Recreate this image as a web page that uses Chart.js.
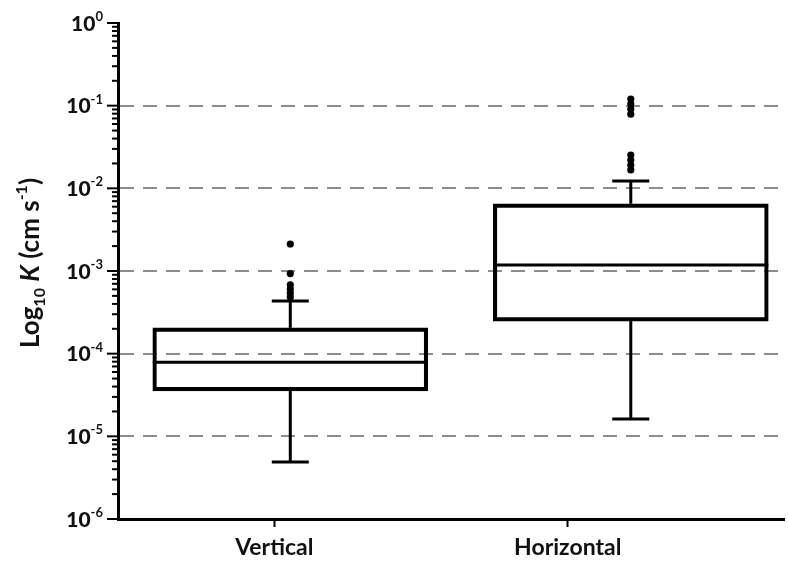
<!DOCTYPE html>
<html>
<head>
<meta charset="utf-8">
<script src="https://cdn.jsdelivr.net/npm/chart.js@4/dist/chart.umd.min.js"></script>
<style>
  html, body { margin: 0; padding: 0; background: #fff; }
  #wrap { width: 788px; height: 567px; position: relative; }
</style>
</head>
<body>
<div id="wrap"><canvas id="c"></canvas></div>
<script>
// Hydraulic conductivity K (cm/s) by flow direction
const categories   = ['Vertical', 'Horizontal'];
const whiskerLow   = [4.9e-6, 1.62e-5];
const q1           = [3.55e-5, 2.48e-4];
const median       = [7.9e-5, 1.18e-3];
const q3           = [2.05e-4, 6.5e-3];
const whiskerHigh  = [4.35e-4, 1.23e-2];
const outliersVertical   = [2.12e-3, 9.3e-4, 6.8e-4, 6.05e-4, 5.4e-4, 4.85e-4];
const outliersHorizontal = [0.12, 0.105, 0.091, 0.079, 0.0253, 0.022, 0.0191, 0.0167];
const yMin = 1e-6;
const yMax = 1;

const FONT = 'Lato, "Open Sans", sans-serif';
const INK = '#111';

const boxData = categories.map((c, i) => ({ x: i + 1, y: [q1[i], q3[i]] }));
const outlierData = [
  ...outliersVertical.map(v => ({ x: 1, y: v })),
  ...outliersHorizontal.map(v => ({ x: 2, y: v }))
];

const isDecade = v => {
  const e = Math.log10(v);
  return Math.abs(e - Math.round(e)) < 1e-6;
};

// whiskers, caps and median lines for each box
const whiskerPlugin = {
  id: 'whiskers',
  beforeDatasetsDraw(chart) {
    const { ctx } = chart;
    const y = chart.scales.y;
    const meta = chart.getDatasetMeta(0);
    const capHalf = 18.5;
    ctx.save();
    ctx.strokeStyle = '#000';
    ctx.lineWidth = 3;
    const seg = (x1, y1, x2, y2) => { ctx.beginPath(); ctx.moveTo(x1, y1); ctx.lineTo(x2, y2); ctx.stroke(); };
    categories.forEach((c, i) => {
      const bar = meta.data[i];
      const cx = bar.x;
      const half = bar.width / 2;
      const pQ1 = y.getPixelForValue(q1[i]);
      const pQ3 = y.getPixelForValue(q3[i]);
      const pLo = y.getPixelForValue(whiskerLow[i]);
      const pHi = y.getPixelForValue(whiskerHigh[i]);
      const pMed = y.getPixelForValue(median[i]);
      seg(cx, pQ3, cx, pHi);
      seg(cx - capHalf, pHi, cx + capHalf, pHi);
      seg(cx, pQ1, cx, pLo);
      seg(cx - capHalf, pLo, cx + capHalf, pLo);
      seg(cx - half, pMed, cx + half, pMed);
    });
    ctx.restore();
  }
};

// log-axis tick marks, power-of-ten labels and the axis title
const logAxisPlugin = {
  id: 'logAxis',
  afterDraw(chart) {
    const { ctx, chartArea } = chart;
    const y = chart.scales.y;
    const left = chartArea.left;
    ctx.save();
    ctx.strokeStyle = '#000';
    ctx.lineWidth = 2;
    y.ticks.forEach(t => {
      const py = y.getPixelForValue(t.value);
      const major = isDecade(t.value);
      ctx.beginPath();
      ctx.moveTo(left - (major ? 11 : 6), py);
      ctx.lineTo(left, py);
      ctx.stroke();
      if (major) {
        const exp = String(Math.round(Math.log10(t.value)));
        ctx.fillStyle = INK;
        ctx.font = `bold 13px ${FONT}`;
        const supW = ctx.measureText(exp).width;
        ctx.font = `900 21px ${FONT}`;
        const baseW = ctx.measureText('10').width;
        const right = 103;
        ctx.textBaseline = 'middle';
        ctx.textAlign = 'left';
        ctx.fillText('10', right - supW - baseW, py + 1);
        ctx.font = `bold 13px ${FONT}`;
        ctx.textBaseline = 'alphabetic';
        ctx.fillText(exp, right - supW, py - 2);
      }
    });

    // y-axis title: Log10 K (cm s-1)
    const parts = [
      { t: 'Log', f: `bold 26px ${FONT}`, dy: 0 },
      { t: '10', f: `bold 16px ${FONT}`, dy: 6 },
      { t: ' ', f: `bold 26px ${FONT}`, dy: 0 },
      { t: 'K', f: `italic bold 26px ${FONT}`, dy: 0 },
      { t: ' (cm s', f: `bold 26px ${FONT}`, dy: 0 },
      { t: '-1', f: `bold 16px ${FONT}`, dy: -12 },
      { t: ')', f: `bold 26px ${FONT}`, dy: 0 }
    ];
    let total = 0;
    parts.forEach(p => { ctx.font = p.f; p.w = ctx.measureText(p.t).width; total += p.w; });
    ctx.translate(39, 263);
    ctx.rotate(-Math.PI / 2);
    ctx.fillStyle = INK;
    ctx.textAlign = 'left';
    ctx.textBaseline = 'alphabetic';
    let x = -total / 2;
    parts.forEach(p => { ctx.font = p.f; ctx.fillText(p.t, x, p.dy); x += p.w; });
    ctx.restore();
  }
};

new Chart(document.getElementById('c'), {
  type: 'bar',
  data: {
    datasets: [
      {
        type: 'bar',
        label: 'Interquartile range',
        data: boxData,
        backgroundColor: 'rgba(0,0,0,0)',
        borderColor: '#000',
        borderWidth: 3.5,
        borderSkipped: false,
        barThickness: 275,
        order: 2
      },
      {
        type: 'scatter',
        label: 'Outliers',
        data: outlierData,
        pointRadius: 3.6,
        pointBackgroundColor: '#000',
        pointBorderWidth: 0,
        order: 1
      }
    ]
  },
  options: {
    responsive: true,
    maintainAspectRatio: false,
    animation: false,
    layout: { padding: { top: 23, right: 0, bottom: 0, left: 0 } },
    plugins: { legend: { display: false }, tooltip: { enabled: false } },
    scales: {
      x: {
        type: 'linear',
        position: 'bottom',
        min: 0.494,
        max: 2.45,
        offset: false,
        afterBuildTicks: s => { s.ticks = [0.953, 1.815].map(v => ({ value: v })); },
        afterFit: s => { s.height = 48; },
        grid: { offset: false, drawOnChartArea: false, drawTicks: true, tickLength: 8, tickWidth: 2, tickColor: '#000' },
        border: { color: '#000', width: 3 },
        ticks: {
          autoSkip: false,
          maxRotation: 0,
          padding: 7,
          color: INK,
          font: { family: FONT, weight: 'bold', size: 23 },
          callback: (v, i) => categories[i]
        }
      },
      y: {
        type: 'logarithmic',
        position: 'left',
        min: yMin,
        max: yMax,
        afterBuildTicks: s => {
          s.ticks = s.ticks.filter(t => {
            const m = t.value / Math.pow(10, Math.floor(Math.log10(t.value) + 1e-9));
            return Math.abs(m - Math.round(m)) < 1e-6;
          });
        },
        afterFit: s => { s.width = 118; },
        ticks: { display: false },
        grid: {
          drawTicks: false,
          lineWidth: 2,
          color: c => (c.tick && isDecade(c.tick.value) && c.tick.value > yMin * 1.5 && c.tick.value < yMax / 1.5)
            ? '#8c8c8c' : 'rgba(0,0,0,0)'
        },
        border: { color: '#000', width: 3, dash: [14, 9] }
      }
    }
  },
  plugins: [whiskerPlugin, logAxisPlugin]
});
</script>
</body>
</html>
